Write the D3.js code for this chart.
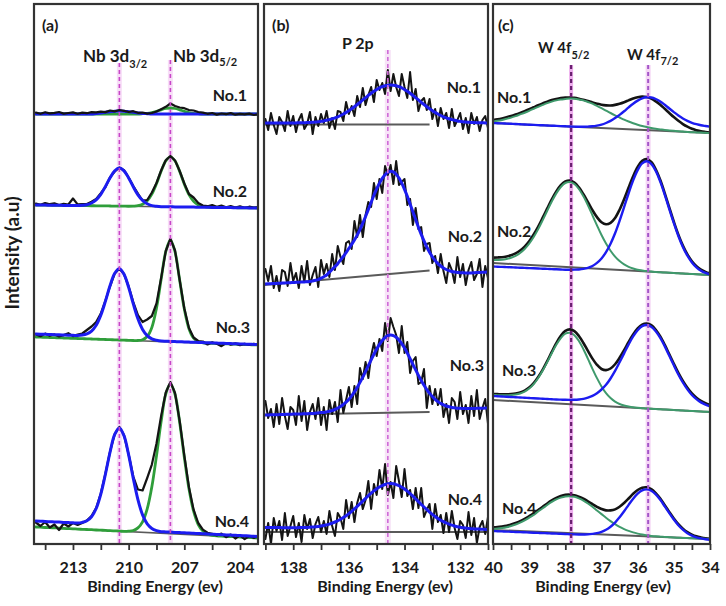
<!DOCTYPE html>
<html><head><meta charset="utf-8">
<script src="https://cdn.jsdelivr.net/npm/d3@7"></script>
<style>
body{margin:0;background:#fff;}
svg{display:block;}
text{font-family:Lato,'Open Sans','DejaVu Sans',sans-serif;font-weight:700;fill:#1a1a1a;}
</style>
</head><body>
<svg id="chart" width="726" height="606"></svg>
<script>
// ---------------- DATA ----------------
// Panel (a): Nb 3d, binding energy grid (eV)
const nbEnergy = [215,214.75,214.5,214.25,214,213.75,213.5,213.25,213,212.75,212.5,212.25,212,211.75,211.5,211.25,211,210.75,210.5,210.25,210,209.75,209.5,209.25,209,208.75,208.5,208.25,208,207.75,207.5,207.25,207,206.75,206.5,206.25,206,205.75,205.5,205.25,205,204.75,204.5,204.25,204,203.75,203.5,203.25,203];
const nbNo1Raw = [431.5,430.2,431.8,430.6,431.2,432.0,430.4,431.0,431.6,430.3,431.4,430.8,431.9,431.6,432.4,431.9,433.5,432.6,434.0,433.2,432.0,432.8,431.2,431.5,430.4,431.0,432.5,434.8,437.2,440.5,438.0,436.5,435.8,434.0,433.5,432.0,431.4,430.2,431.0,429.4,430.5,429.8,430.9,429.3,430.1,429.6,430.4,429.0,429.8];
const nbNo1Fit32 = [430,430,430,430,430,430,430,430,430,430,430,430,430,430.6,431.1,431.7,432.3,432.8,433.0,432.8,432.3,431.7,431.1,430.6,430.3,430,430,430,430,430,430,430,430,430,430,430,430,430,430,430,430,430,430,430,430,430,430,430,430];
const nbNo1Fit52 = [430,430,430,430,430,430,430,430,430,430,430,430,430,430,430,430,430,430,430,430,430,430,430,430.3,430.7,431.5,432.7,434.2,435.5,436.0,435.5,434.2,432.7,431.5,430.7,430.3,430,430,430,430,430,430,430,430,430,430,430,430,430];
const nbNo2Raw = [340.5,339.2,341.0,339.8,340.6,339.0,340.2,339.5,345.5,339.6,339.8,340.0,342.3,345.0,350.8,357.0,366.8,372.5,376.5,373.8,366.5,358.0,350.5,343.5,344.0,351.5,361.0,373.5,383.8,388.0,383.5,373.0,360.5,350.0,346.5,341.0,338.5,337.8,338.9,337.2,338.4,336.8,337.9,336.5,337.6,336.2,337.3,336.4,337.0];
const nbNo2Fit32 = [339.0,338.9,338.9,338.8,338.75,338.7,338.6,338.6,338.5,338.4,338.7,339.3,341.0,344.2,349.7,357.6,366.3,373.2,375.9,373.1,366.1,357.2,349.2,343.6,340.2,338.4,337.7,337.3,337.25,337.2,337.1,337.1,337.0,336.9,336.9,336.8,336.75,336.7,336.6,336.6,336.5,336.4,336.4,336.3,336.25,336.2,336.1,336.1,336.0];
const nbNo2Fit52 = [339.0,338.9,338.9,338.8,338.75,338.7,338.6,338.6,338.5,338.4,338.4,338.3,338.25,338.2,338.1,338.1,338.0,337.9,337.9,337.8,337.75,337.9,338.3,339.8,343.2,349.9,360.3,372.7,383.2,387.2,383.0,372.5,359.9,349.4,342.6,339.0,337.5,336.9,336.6,336.6,336.5,336.4,336.4,336.3,336.25,336.2,336.1,336.1,336.0];
const nbNo3Raw = [209.5,207.8,210.4,208.2,209.6,207.5,208.9,210.8,207.9,209.4,210.5,214.0,217.5,222.0,230.5,243.5,258.0,270.5,275.5,270.0,257.5,242.0,229.0,222.0,224.5,228.0,240.5,266.0,293.0,305.0,293.5,264.0,235.5,216.0,206.5,203.0,202.5,199.5,201.8,200.2,197.8,201.0,199.4,200.6,198.9,200.1,199.0,200.3,198.8];
const nbNo3Fit32 = [210.0,209.8,209.7,209.5,209.3,209.2,209.0,208.8,208.7,208.5,208.9,210.1,212.9,218.7,228.8,242.9,258.4,270.8,275.3,269.8,256.6,240.1,225.2,214.6,208.3,205.1,203.7,202.9,202.7,202.6,202.4,202.2,202.1,201.9,201.7,201.6,201.4,201.2,201.1,200.9,200.7,200.6,200.4,200.2,200.1,199.9,199.7,199.6,199.4];
const nbNo3Fit52 = [207.0,206.8,206.7,206.5,206.3,206.2,206.0,205.8,205.7,205.5,205.3,205.2,205.0,204.8,204.7,204.5,204.3,204.2,204.0,203.8,203.7,203.5,203.5,204.3,207.5,216.6,235.9,264.4,292.3,304.2,292.0,263.7,234.9,215.3,205.8,202.3,201.2,200.8,200.7,200.5,200.3,200.2,200.0,199.8,199.7,199.5,199.3,199.2,199.0];
const nbNo4Raw = [21.5,18.0,22.0,16.5,19.5,14.0,20.5,17.5,21.0,19.0,21.0,23.5,28.0,36.0,50.5,70.5,92.5,110.0,117.0,109.0,89.5,67.5,54.5,53.5,66.0,79.4,100.5,128.0,151.5,161.9,151.0,123.0,88.3,56.8,34.3,21.0,14.4,11.3,10.2,8.5,10.4,6.8,9.5,5.5,8.6,4.8,7.9,6.0,8.2];
const nbNo4Fit32 = [23.0,22.8,22.5,22.3,22.1,21.9,21.6,21.4,21.2,20.9,21.6,23.2,27.3,35.5,49.9,70.0,92.0,109.6,116.1,108.2,89.1,65.6,44.4,29.1,20.1,15.5,13.4,12.3,12.1,11.9,11.6,11.4,11.2,10.9,10.7,10.5,10.3,10.0,9.8,9.6,9.3,9.1,8.9,8.7,8.4,8.2,8.0,7.7,7.5];
const nbNo4Fit52 = [17.0,16.8,16.5,16.3,16.1,15.9,15.6,15.4,15.2,14.9,14.7,14.5,14.3,14.0,13.8,13.6,13.3,13.1,12.9,12.6,12.8,13.5,16.1,22.2,35.1,57.2,88.1,122.4,150.0,160.4,149.5,121.5,86.8,55.3,32.8,19.5,12.9,9.8,8.7,8.1,7.8,7.6,7.4,7.2,6.9,6.7,6.5,6.2,6.0];
const nbBaseLeft = [430.5, 339, 207, 17];
const nbBaseRight = [429.5, 336, 199, 6];
const nbPeaks = [210.5, 207.75];
const nbTicks = [214.5, 213, 211.5, 210, 208.5, 207, 205.5, 204];
const nbTickLabels = [213, 210, 207, 204];

// Panel (b): P 2p
const pEnergy = [139,138.9,138.8,138.7,138.6,138.5,138.4,138.3,138.2,138.1,138,137.9,137.8,137.7,137.6,137.5,137.4,137.3,137.2,137.1,137,136.9,136.8,136.7,136.6,136.5,136.4,136.3,136.2,136.1,136,135.9,135.8,135.7,135.6,135.5,135.4,135.3,135.2,135.1,135,134.9,134.8,134.7,134.6,134.5,134.4,134.3,134.2,134.1,134,133.9,133.8,133.7,133.6,133.5,133.4,133.3,133.2,133.1,133,132.9,132.8,132.7,132.6,132.5,132.4,132.3,132.2,132.1,132,131.9,131.8,131.7,131.6,131.5,131.4,131.3,131.2,131.1,131];
const pNo1Raw = [425,414,431,419,410,427,422,413,433,418,428,412,424,430,415,420,432,410,427,418,430,421,433,416,426,415,433,432,423,442,430,438,428,448,437,456,439,449,457,442,464,454,461,450,474,453,470,457,448,470,457,446,472,444,455,433,443,446,434,445,425,435,418,436,425,431,416,435,418,424,431,415,426,411,431,420,427,413,424,428,416];
const pNo1Fit = [421.0,421.0,421.0,421.0,421.0,421.0,421.0,421.0,421.1,421.1,421.1,421.1,421.2,421.2,421.3,421.4,421.6,421.8,422.0,422.3,422.7,423.1,423.7,424.4,425.2,426.1,427.2,428.5,430.0,431.6,433.4,435.3,437.3,439.5,441.7,444.1,446.3,448.6,450.8,452.7,454.5,456.1,457.3,458.2,458.8,459.0,458.8,458.2,457.3,456.1,454.5,452.7,450.8,448.6,446.3,444.1,441.7,439.5,437.3,435.3,433.4,431.6,430.0,428.5,427.2,426.1,425.2,424.4,423.7,423.1,422.7,422.3,422.0,421.8,421.6,421.4,421.3,421.2,421.2,421.1,421.1];
const pNo2Raw = [275,263,278,256,268,253,274,272,258,281,263,271,256,278,262,283,259,269,277,257,284,270,280,267,290,274,298,287,280,301,303,295,323,307,329,307,329,342,337,361,345,365,351,378,369,379,360,383,359,362,365,339,345,319,336,315,317,293,300,301,281,288,271,290,273,261,281,274,261,287,267,280,259,274,282,264,270,285,257,278,266];
const pNo2Fit = [260.0,260.2,260.3,260.45,260.6,260.75,260.9,261.05,261.2,261.35,261.5,261.65,261.8,261.95,262.1,262.25,262.4,263.0,263.7,264.4,265.8,267.3,269.0,271.9,274.5,277.4,280.3,284.0,287.5,291.3,295.7,299.6,303.9,309.0,314.5,320.8,327.5,334.5,341.6,348.7,355.2,360.9,365.6,369.2,371.8,372.8,372.1,369.8,366.0,360.9,354.7,347.7,340.1,332.3,324.4,316.8,309.6,303.1,297.0,291.8,287.2,283.5,280.4,278.0,276.0,274.5,273.3,272.5,271.9,271.6,271.3,271.2,271.1,271.1,271.1,271.25,271.4,271.55,271.7,271.85,272.0];
const pNo3Raw = [143,126,135,117,140,120,146,128,115,137,134,119,148,123,143,114,132,140,125,146,119,137,114,144,130,142,122,154,131,144,157,137,158,140,176,165,182,166,188,201,188,205,193,221,203,226,217,209,191,218,191,202,171,183,187,160,162,175,136,158,140,155,139,155,127,140,121,146,142,125,152,130,139,121,148,128,154,125,136,145,120];
const pNo3Fit = [129.0,129.1,129.2,129.3,129.35,129.4,129.5,129.6,129.7,129.8,129.9,130.0,130.05,130.1,130.2,130.3,130.4,130.5,130.8,131.1,131.4,131.6,132.1,132.7,133.5,134.5,135.9,137.5,139.5,141.8,144.7,148.1,152.1,156.6,161.6,166.9,172.6,178.3,184.1,189.8,195.0,199.6,203.5,206.4,208.3,208.9,208.4,206.7,204.0,200.3,195.9,190.9,185.4,179.7,174.1,168.6,163.5,158.7,154.4,150.6,147.4,144.6,142.4,140.6,139.2,138.0,137.2,136.6,136.2,135.8,135.7,135.6,135.5,135.4,135.5,135.6,135.65,135.7,135.8,135.9,136.0];
const pNo4Raw = [5,21,0,26,13,23,4,31,8,18,28,7,21,2,29,15,25,6,20,27,12,23,10,33,18,8,31,26,15,44,26,42,22,41,51,35,44,63,35,60,49,74,55,80,49,62,46,78,63,47,75,48,54,35,56,36,56,27,34,40,15,40,22,29,11,31,12,33,16,5,23,19,6,32,9,26,1,17,23,10,27];
const pNo4Fit = [16.5,16.5,16.45,16.4,16.4,16.4,16.35,16.3,16.3,16.3,16.3,16.3,16.4,16.5,16.55,16.6,16.8,17.0,17.25,17.5,18.0,18.45,19.15,19.9,20.9,22.0,23.25,24.7,26.4,28.3,30.35,32.6,35.1,37.6,40.25,42.9,45.6,48.3,50.75,53.1,55.2,57.0,58.45,59.5,60.2,60.4,60.15,59.4,58.3,56.8,54.95,52.8,50.4,47.9,45.15,42.4,39.7,37.0,34.45,31.9,29.6,27.45,25.55,23.8,22.3,21.0,19.85,18.8,18.0,17.3,16.75,16.2,15.9,15.6,15.35,15.1,15.0,14.9,14.75,14.6,14.5];
const pBaseLeft = [419.5, 259, 129, 12];
const pBaseRight = [419.5, 273.5, 132, 12];
const pBaseEndEnergy = [133.1, 133.1, 133.1, 131.0];
const pPeak = [134.6];
const pTicks = [139, 138, 137, 136, 135, 134, 133, 132, 131];
const pTickLabels = [138, 136, 134, 132];

// Panel (c): W 4f
const wEnergy = [40,39.875,39.75,39.625,39.5,39.375,39.25,39.125,39,38.875,38.75,38.625,38.5,38.375,38.25,38.125,38,37.875,37.75,37.625,37.5,37.375,37.25,37.125,37,36.875,36.75,36.625,36.5,36.375,36.25,36.125,36,35.875,35.75,35.625,35.5,35.375,35.25,35.125,35,34.875,34.75,34.625,34.5,34.375,34.25,34.125,34];
const wNo1Env = [424.0,424.7,425.6,426.7,427.9,429.4,431.05,432.8,434.7,436.7,438.7,440.6,442.4,443.9,445.1,446.0,446.5,446.5,446.15,445.3,444.2,443.0,441.6,440.3,439.2,438.6,438.5,439.1,440.2,441.75,443.65,445.5,446.8,447.4,446.9,445.4,442.7,439.3,435.2,431.0,426.9,423.2,419.95,417.3,415.2,413.8,412.7,412.0,411.4];
const wNo1F52 = [422.5,423.2,424.1,425.2,426.4,427.9,429.6,431.3,433.2,435.2,437.2,439.1,440.9,442.4,443.6,444.5,445.0,445.5,445.3,444.6,443.6,442.0,440.3,438.1,435.8,433.4,431.0,428.7,426.5,424.35,422.45,420.8,419.3,418.0,416.9,416.0,415.2,414.6,414.0,413.6,413.2,412.8,412.45,412.1,411.8,411.6,411.4,411.2,411.0];
const wNo1F72 = [421.0,420.8,420.6,420.4,420.2,420.0,419.75,419.5,419.3,419.1,418.9,418.7,418.5,418.3,418.1,417.9,417.7,417.5,417.35,417.2,417.2,417.4,417.7,418.4,419.4,421.0,423.1,425.9,429.1,432.75,436.65,440.3,443.4,445.7,446.7,446.5,445.0,442.5,439.2,435.5,431.9,428.5,425.55,423.1,421.2,419.8,418.7,418.0,417.4];
const wNo2Env = [286.4,286.55,286.8,287.55,288.7,290.65,293.5,297.45,302.8,309.45,317.4,326.35,335.6,344.65,352.6,358.75,362.5,363.45,361.45,356.6,349.8,341.95,333.8,326.85,321.8,319.75,321.2,326.05,334.3,344.75,356.4,367.75,377.0,383.15,384.9,382.05,374.7,363.95,350.7,336.35,322.3,309.35,298.4,289.55,282.8,277.85,274.4,272.15,270.6];
const wNo2F52 = [283.9,284.05,284.3,285.05,286.2,288.15,291.0,294.95,300.3,306.95,314.9,323.9,333.25,342.45,350.6,357.0,361.0,362.0,360.0,355.0,347.65,338.65,328.65,318.6,308.95,300.45,293.3,287.45,283.0,279.65,277.2,275.55,274.3,273.55,272.9,272.45,272.0,271.75,271.5,271.25,271.0,270.75,270.5,270.25,270.0,269.75,269.5,269.25,269.0];
const wNo2F72 = [277.5,277.3,277.1,276.9,276.7,276.5,276.3,276.1,275.9,275.7,275.5,275.3,275.1,274.9,274.7,274.5,274.3,274.3,274.35,274.55,275.1,276.2,278.0,281.1,285.55,291.85,300.25,310.75,323.25,336.85,350.75,363.6,373.9,380.6,382.8,380.2,373.1,362.4,349.2,334.9,320.9,308.0,297.1,288.3,281.6,276.7,273.3,271.1,269.6];
const wNo3Env = [150.0,149.85,149.7,149.65,149.9,150.45,151.5,153.45,156.5,160.95,167.0,174.45,183.0,192.1,200.9,208.15,213.05,214.65,212.9,208.0,201.0,193.05,185.35,179.15,175.0,173.85,175.5,179.75,186.2,193.85,202.0,209.45,215.5,219.45,220.5,218.85,214.3,207.55,199.1,189.65,180.2,171.05,163.0,156.15,150.5,146.35,143.1,140.85,139.1];
const wNo3F52 = [149.0,148.85,148.7,148.65,148.9,149.45,150.5,152.45,155.5,159.95,166.0,173.45,181.9,190.75,199.2,205.95,210.3,211.25,208.8,202.95,194.8,185.15,175.2,165.85,157.6,150.95,146.0,142.45,140.0,138.45,137.4,136.65,136.2,135.85,135.5,135.25,135.0,134.75,134.5,134.25,134.0,133.75,133.5,133.25,133.0,132.75,132.5,132.25,132.0];
const wNo3F72 = [148.0,147.75,147.5,147.25,147.0,146.75,146.5,146.25,146.0,145.75,145.5,145.25,145.0,144.75,144.5,144.35,144.2,144.15,144.2,144.5,145.1,146.35,148.1,150.85,154.5,159.15,165.5,173.05,181.7,190.65,199.6,207.55,213.8,217.85,219.0,217.35,212.8,206.05,197.6,188.15,178.7,169.55,161.5,154.65,149.0,144.85,141.6,139.35,137.6];
const wNo4Env = [16.6,16.9,17.5,18.3,19.45,20.95,22.8,25.1,27.8,30.7,34.0,37.2,40.55,43.55,46.1,47.9,49.1,49.3,48.7,47.2,45.25,42.65,39.9,37.1,35.0,33.6,33.6,34.6,37.25,41.05,45.5,50.2,54.0,56.3,56.7,54.9,50.95,45.45,38.8,32.0,25.5,19.8,15.3,11.8,9.35,7.65,6.6,5.8,5.3];
const wNo4F52 = [15.1,15.4,16.0,16.8,17.95,19.45,21.3,23.6,26.3,29.2,32.5,35.7,39.05,42.05,44.6,46.4,47.6,47.8,47.2,45.6,43.45,40.55,37.2,33.5,29.9,26.2,22.9,19.8,17.15,14.95,13.1,11.6,10.4,9.4,8.7,8.1,7.65,7.35,7.1,6.8,6.5,6.3,6.1,5.9,5.75,5.55,5.4,5.2,5.0];
const wNo4F72 = [13.0,12.8,12.6,12.4,12.25,12.05,11.9,11.7,11.5,11.3,11.1,10.9,10.75,10.55,10.4,10.2,10.0,9.8,9.6,9.5,9.55,9.65,10.1,10.8,12.1,14.2,17.3,21.4,26.75,32.75,39.1,45.3,50.3,53.6,54.6,53.2,49.55,44.15,37.6,30.9,24.5,18.8,14.3,10.8,8.35,6.65,5.6,4.8,4.3];
const wBaseLeft = [421, 281, 144, 14];
const wBaseRight = [411, 269, 132, 5];
const wPeaks = [37.84, 35.71];
const wTicks = [40,39.5,39,38.5,38,37.5,37,36.5,36,35.5,35,34.5,34];
const wTickLabels = [40,39,38,37,36,35,34];

const sampleNames = ["No.1", "No.2", "No.3", "No.4"];

// ---------------- DRAWING ----------------
const svg = d3.select("#chart");
const TOP = 4, BOTTOM = 544;
const y = d3.scaleLinear().domain([0, 540]).range([BOTTOM, TOP]);
const BLACK = "#141414", BLUE = "#1c1cf0", GREEN_A = "#2f9e3a", GREEN_C = "#3f9a6c", GRAY = "#5a5a5a";

function drawPanel(p) {
  const x = d3.scaleLinear().domain(p.domain).range([p.x0, p.x1]);
  const clipId = "clip-" + p.id;
  svg.append("clipPath").attr("id", clipId).append("rect")
    .attr("x", p.x0).attr("y", TOP).attr("width", p.x1 - p.x0).attr("height", BOTTOM - TOP);
  const g = svg.append("g");
  const plot = g.append("g").attr("clip-path", `url(#${clipId})`);

  // glow behind peak markers
  p.peaks.forEach((e, i) => {
    plot.append("line").attr("x1", x(e)).attr("x2", x(e)).attr("y1", p.peakTop[i]).attr("y2", BOTTOM)
      .attr("stroke", p.glow[i]).attr("stroke-width", p.glowW[i]).attr("opacity", 0.6);
  });

  p.spectra.forEach(s => {
    plot.append("path").datum([[s.baseE[0], s.base[0]], [s.baseE[1], s.base[1]]])
      .attr("d", d3.line().x(d => x(d[0])).y(d => y(d[1])))
      .attr("fill", "none").attr("stroke", GRAY).attr("stroke-width", s.baseW || 1.6);
    s.layers.forEach(L => {
      const gen = d3.line().x((d, i) => x(L.energy[i])).y(d => y(d))
        .curve(L.smooth ? d3.curveCatmullRom.alpha(0.5) : d3.curveLinear);
      plot.append("path").datum(L.values).attr("d", gen)
        .attr("fill", "none").attr("stroke", L.color).attr("stroke-width", L.width)
        .attr("stroke-linejoin", "round").attr("stroke-linecap", "round");
    });
  });

  // dashed peak markers
  p.peaks.forEach((e, i) => {
    plot.append("line").attr("x1", x(e)).attr("x2", x(e)).attr("y1", p.peakTop[i]).attr("y2", BOTTOM)
      .attr("stroke", p.dash[i]).attr("stroke-width", p.dashW[i]).attr("stroke-dasharray", "4,3");
  });

  // frame
  g.append("rect").attr("x", p.x0).attr("y", TOP).attr("width", p.x1 - p.x0).attr("height", BOTTOM - TOP)
    .attr("fill", "none").attr("stroke", "#333").attr("stroke-width", 2.2);

  // bottom axis: minor ticks + labelled ticks
  const ax = g.append("g").attr("transform", `translate(0,${BOTTOM})`);
  ax.call(d3.axisBottom(x).tickValues(p.ticks).tickSize(6).tickFormat(""));
  const lab = g.append("g").attr("transform", `translate(0,${BOTTOM})`);
  lab.call(d3.axisBottom(x).tickValues(p.tickLabels).tickSize(0).tickPadding(18).tickFormat(d3.format("d")));
  [ax, lab].forEach(a => { a.select(".domain").remove(); });
  ax.selectAll(".tick line").attr("stroke", "#333").attr("stroke-width", 1.8);
  lab.selectAll(".tick text").attr("font-size", 16).attr("font-family", "Lato,'Open Sans',sans-serif")
    .attr("font-weight", 700).attr("fill", "#1a1a1a");

  g.append("text").attr("x", p.titleX).attr("y", 592).attr("text-anchor", "middle")
    .attr("font-size", 16).text("Binding Energy (ev)");
  g.append("text").attr("x", p.tagX).attr("y", 31).attr("font-size", 16).text(p.tag);
  p.labels.forEach((l, i) => {
    g.append("text").attr("x", l[0]).attr("y", l[1]).attr("font-size", 16)
      .attr("text-anchor", p.labelAnchor).text(sampleNames[i]);
  });
  p.peakNames.forEach(n => {
    const t = g.append("text").attr("x", n.x).attr("y", n.y).attr("font-size", n.size);
    t.append("tspan").text(n.main);
    if (n.sub) t.append("tspan").attr("dy", n.subDy).attr("font-size", 11).text(n.sub);
  });
}

function nbSpectrum(i, raw, f32, f52, dataOnTop) {
  const layers = [
    {energy: nbEnergy, values: f52, color: GREEN_A, width: 2.8, smooth: true},
    {energy: nbEnergy, values: raw, color: BLACK, width: 2.2, smooth: false},
    {energy: nbEnergy, values: f32, color: BLUE, width: 3, smooth: true}
  ];
  if (dataOnTop) layers.push(layers.splice(1, 1)[0]);
  return {base: [nbBaseLeft[i], nbBaseRight[i]], baseE: [215.1, 203.03], layers};
}
function pSpectrum(i, raw, fit) {
  return {
    base: [pBaseLeft[i], pBaseRight[i]], baseE: [139.05, pBaseEndEnergy[i]], baseW: 2,
    layers: [
      {energy: pEnergy, values: raw, color: BLACK, width: 2, smooth: false},
      {energy: pEnergy, values: fit, color: BLUE, width: 3, smooth: true}
    ]
  };
}
function wSpectrum(i, env, f52, f72) {
  return {
    base: [wBaseLeft[i], wBaseRight[i]], baseE: [40, 34], baseW: 2,
    layers: [
      {energy: wEnergy, values: env, color: BLACK, width: 2.6, smooth: true},
      {energy: wEnergy, values: f52, color: GREEN_C, width: 2, smooth: true},
      {energy: wEnergy, values: f72, color: BLUE, width: 2.4, smooth: true}
    ]
  };
}

drawPanel({
  id: "a", x0: 34, x1: 258, domain: [215.1, 203.03], ticks: nbTicks, tickLabels: nbTickLabels,
  peaks: nbPeaks, peakTop: [63, 60], glow: ["#f3c9f3", "#f3c9f3"], glowW: [5, 5],
  dash: ["#c846c8", "#c846c8"], dashW: [1.6, 1.6],
  spectra: [
    nbSpectrum(0, nbNo1Raw, nbNo1Fit32, nbNo1Fit52, true),
    nbSpectrum(1, nbNo2Raw, nbNo2Fit32, nbNo2Fit52),
    nbSpectrum(2, nbNo3Raw, nbNo3Fit32, nbNo3Fit52),
    nbSpectrum(3, nbNo4Raw, nbNo4Fit32, nbNo4Fit52)
  ],
  titleX: 155, tag: "(a)", tagX: 42, labelAnchor: "end",
  labels: [[247, 101], [247, 197], [250, 333], [249, 527]],
  peakNames: [
    {x: 83, y: 62, size: 17, main: "Nb 3d", sub: "3/2", subDy: 6},
    {x: 173, y: 62, size: 17, main: "Nb 3d", sub: "5/2", subDy: 4}
  ]
});

drawPanel({
  id: "b", x0: 264, x1: 488, domain: [139.05, 131.0], ticks: pTicks, tickLabels: pTickLabels,
  peaks: pPeak, peakTop: [50], glow: ["#f3d2f3"], glowW: [6],
  dash: ["#cf6ad8"], dashW: [1.6],
  spectra: [
    pSpectrum(0, pNo1Raw, pNo1Fit),
    pSpectrum(1, pNo2Raw, pNo2Fit),
    pSpectrum(2, pNo3Raw, pNo3Fit),
    pSpectrum(3, pNo4Raw, pNo4Fit)
  ],
  titleX: 385, tag: "(b)", tagX: 272, labelAnchor: "end",
  labels: [[481, 93], [482, 242], [484, 371], [482, 505]],
  peakNames: [{x: 342, y: 49, size: 16, main: "P 2p"}]
});

drawPanel({
  id: "c", x0: 493, x1: 710, domain: [40, 34], ticks: wTicks, tickLabels: wTickLabels,
  peaks: wPeaks, peakTop: [65, 65], glow: ["#e277e2", "#efbaf0"], glowW: [4, 5],
  dash: ["#6a1f70", "#a355c8"], dashW: [2.2, 2],
  spectra: [
    wSpectrum(0, wNo1Env, wNo1F52, wNo1F72),
    wSpectrum(1, wNo2Env, wNo2F52, wNo2F72),
    wSpectrum(2, wNo3Env, wNo3F52, wNo3F72),
    wSpectrum(3, wNo4Env, wNo4F52, wNo4F72)
  ],
  titleX: 603, tag: "(c)", tagX: 498, labelAnchor: "start",
  labels: [[497, 103], [497, 237], [502, 376], [502, 514]],
  peakNames: [
    {x: 538, y: 53, size: 15, main: "W 4f", sub: "5/2", subDy: 6},
    {x: 627, y: 60, size: 15, main: "W 4f", sub: "7/2", subDy: 5}
  ]
});

svg.append("text").attr("transform", "translate(19,253) rotate(-90)")
  .attr("text-anchor", "middle").attr("font-size", 19).attr("font-weight", 600)
  .text("Intensity (a.u)");
</script>
</body></html>
